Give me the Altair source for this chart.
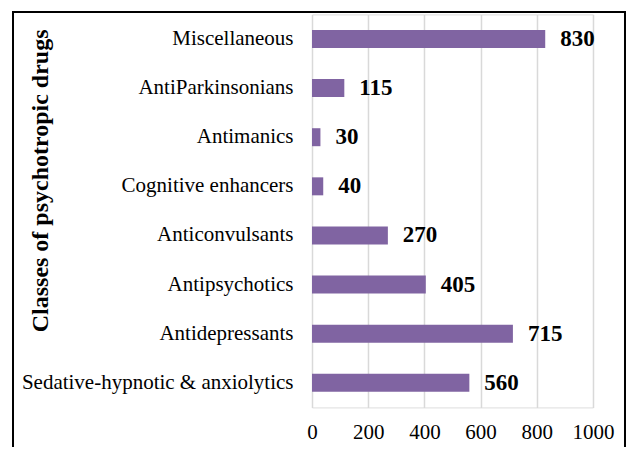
import altair as alt
import pandas as pd

categories = [
    "Miscellaneous",
    "AntiParkinsonians",
    "Antimanics",
    "Cognitive enhancers",
    "Anticonvulsants",
    "Antipsychotics",
    "Antidepressants",
    "Sedative-hypnotic & anxiolytics",
]
counts = [830, 115, 30, 40, 270, 405, 715, 560]
x_ticks = [0, 200, 400, 600, 800, 1000]

df = pd.DataFrame({"cls": categories, "n": counts})

FONT = "Liberation Serif"
PURPLE = "#8064A2"

y_enc = alt.Y(
    "cls:N",
    sort=categories,
    scale=alt.Scale(paddingInner=0.634, paddingOuter=0.317),
    axis=alt.Axis(
        title="Classes of psychotropic drugs",
        titleFont=FONT,
        titleFontSize=24,
        titleFontWeight="bold",
        titleColor="#000000",
        titleAngle=-90,
        titleBaseline="middle",
        titleX=-272,
        titleY=166,
        labelFont=FONT,
        labelFontSize=21,
        labelColor="#000000",
        labelPadding=19,
        labelLimit=400,
        ticks=False,
        domain=False,
        grid=False,
    ),
)

x_enc = alt.X(
    "n:Q",
    scale=alt.Scale(domain=[0, 1000], nice=False),
    axis=alt.Axis(
        title=None,
        values=x_ticks,
        format="d",
        labelFont=FONT,
        labelFontSize=21,
        labelColor="#000000",
        labelPadding=14,
        labelOverlap=False,
        labelFlush=False,
        labelBound=False,
        ticks=False,
        domain=False,
        grid=True,
        gridColor="#d9d9d9",
        gridWidth=1.5,
    ),
)

bars = alt.Chart(df).mark_bar(color=PURPLE).encode(x=x_enc, y=y_enc)

labels = alt.Chart(df).mark_text(
    align="left",
    baseline="middle",
    dx=15,
    font=FONT,
    fontSize=23,
    fontWeight="bold",
    color="#000000",
).encode(x="n:Q", y=alt.Y("cls:N", sort=categories), text="n:Q")

border = alt.Chart(alt.Data(values=[{"a": 1}])).mark_rect(
    fill=None, stroke="#000000", strokeWidth=2
).encode(
    x=alt.value(-299),
    x2=alt.value(313),
    y=alt.value(-2.4),
    y2=alt.value(460),
)

chart = (
    alt.layer(bars, labels, border)
    .properties(
        width=281,
        height=393,
        autosize=alt.AutoSizeParams(type="none"),
        padding={"left": 304, "top": 6.4, "right": 33, "bottom": 40},
    )
    .configure_view(stroke=None)
    .configure(background="white")
)

chart.save("out.html", embed_options={"renderer": "svg", "actions": False})
